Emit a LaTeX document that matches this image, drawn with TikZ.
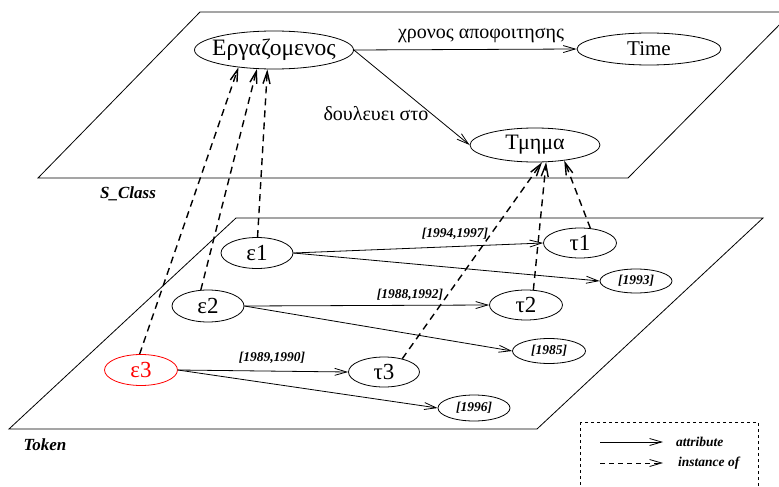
\documentclass[tikz,border=0pt]{standalone}
\usepackage{fontspec}
\setmainfont{Liberation Serif}
\usetikzlibrary{shapes.geometric,arrows.meta}

\tikzset{
  oval/.style={ellipse, draw, line width=0.8pt, inner sep=0pt,
    font=\fontsize{21}{22}\selectfont},
  tokenoval/.style={oval, font=\fontsize{23}{24}\selectfont},
  yearoval/.style={ellipse, draw, line width=0.8pt, inner sep=0pt,
    minimum width=72pt, font=\fontsize{13.5}{15}\selectfont\bfseries\itshape},
  attr/.style={line width=0.8pt, -{Straight Barb[length=12pt,width=7pt]}},
  inst/.style={line width=1.4pt, dash pattern=on 7pt off 5pt,
    -{Straight Barb[length=12pt,width=7pt]}},
  plane/.style={line width=0.8pt},
  legendbox/.style={line width=0.6pt, dash pattern=on 3pt off 3pt},
  tag/.style={font=\fontsize{13.5}{15}\selectfont\bfseries\itshape, inner sep=0pt},
  planelabel/.style={font=\fontsize{17}{19}\selectfont\bfseries\itshape, inner sep=0pt},
  rel/.style={font=\fontsize{20}{22}\selectfont, inner sep=0pt},
}

\begin{document}
\begin{tikzpicture}[x=1pt,y=-1pt]
\useasboundingbox (0,0) rectangle (779,487);
\clip (0,0) rectangle (779,487);

% the two planes
\draw[plane] (200,12) -- (792,12) -- (628,178) -- (38,178) -- cycle;
\draw[plane] (236,218) -- (763,218) -- (537,429) -- (9,429) -- cycle;
\node[planelabel] (sclass) at (128,194) {S\_Class};
\node[planelabel] (token) at (45,445) {Token};

% schema level
\node[oval, minimum width=159pt, minimum height=38pt, font=\fontsize{23.5}{24}\selectfont] (erg) at (274,50)
  {\makebox[0pt]{Εργαζομενος}};
\node[oval, minimum width=144pt, minimum height=32pt] (time) at (649,49) {Time};
\node[oval, minimum width=130pt, minimum height=34pt, font=\fontsize{22}{23}\selectfont] (tmima) at (535,145) {Τμημα};

\draw[attr] (erg.east) -- (time.west);
\draw[attr] (erg.east) -- (tmima.west);
\node[rel] (lbl1) at (481,36) {χρονος αποφοιτησης};
\node[rel] (lbl2) at (376,114) {δουλευει στο};

% token level
\node[tokenoval, minimum width=72pt, minimum height=31pt] (e1) at (257,253) {ε1};
\node[tokenoval, minimum width=72pt, minimum height=32pt] (e2) at (208,306) {ε2};
\node[tokenoval, minimum width=73pt, minimum height=31pt, draw=red, text=red] (e3) at (141,370) {ε3};
\node[tokenoval, minimum width=73pt, minimum height=30pt] (t1) at (580,243) {τ1};
\node[tokenoval, minimum width=73pt, minimum height=30pt] (t2) at (526,305) {τ2};
\node[tokenoval, minimum width=71pt, minimum height=30pt] (t3) at (384,372) {τ3};
\node[yearoval, minimum height=24pt] (y93) at (636,281) {[1993]};
\node[yearoval, minimum height=25pt, minimum width=73pt] (y85) at (549,351) {[1985]};
\node[yearoval, minimum height=26pt] (y96) at (474,408) {[1996]};

\draw[attr] (e1.east) -- (t1.west);
\draw[attr] (e1.east) -- (y93.west);
\draw[attr] (e2.east) -- (t2.west);
\draw[attr] (e2.east) -- (y85.west);
\draw[attr] (e3.east) -- (t3.west);
\draw[attr] (e3.east) -- (y96.west);
\node[tag] (p1) at (455,234) {[1994,1997]};
\node[tag] (p2) at (410,295) {[1988,1992]};
\node[tag] (p3) at (272,358) {[1989,1990]};

% instance-of links
\draw[inst] (e1.88) -- (erg.251);
\draw[inst] (e2.114) -- (erg.228);
\draw[inst] (e3.95) -- (erg.206);
\draw[inst] (t3.36) -- (tmima.292);
\draw[inst] (t2.64) -- (tmima.303);
\draw[inst] (t1.55) -- (tmima.332);

% legend
\draw[legendbox] (580,422) rectangle (758,500);
\coordinate (la1) at (600,442);
\coordinate (la2) at (663,442);
\coordinate (li1) at (600,463);
\coordinate (li2) at (663,463);
\draw[attr] (la1) -- (la2);
\draw[inst, line width=0.8pt, dash pattern=on 5pt off 4pt] (li1) -- (li2);
\node[tag, anchor=west] (lattr) at (676,442) {attribute};
\node[tag, anchor=west] (linst) at (678,463) {instance of};
\end{tikzpicture}
\end{document}
